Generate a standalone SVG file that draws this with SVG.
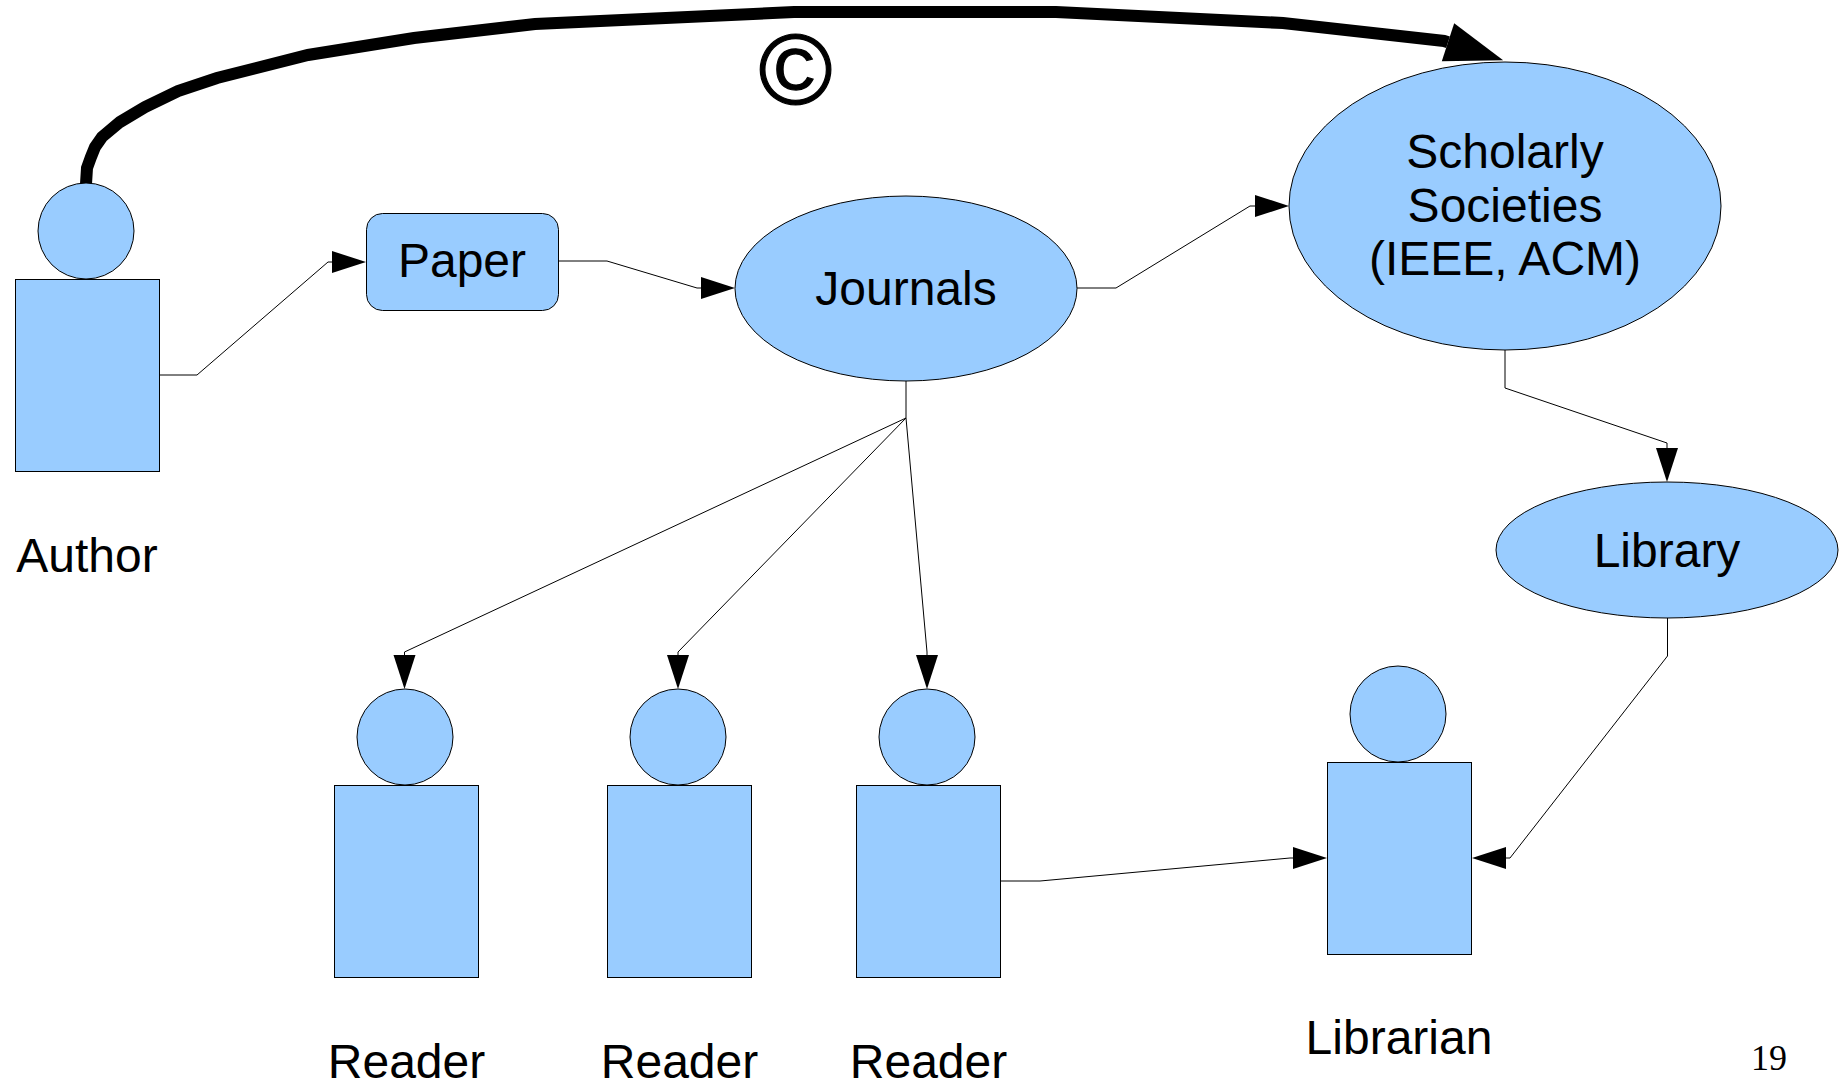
<svg xmlns="http://www.w3.org/2000/svg" width="1847" height="1082" viewBox="0 0 1847 1082">
<style>
.s{fill:#99ccff;stroke:#000;stroke-width:1}
.c{fill:none;stroke:#000;stroke-width:1;marker-end:url(#a)}
.t{fill:none;stroke:#000;stroke-width:12;marker-end:url(#b)}
text{font-family:"Liberation Sans",Arial,sans-serif;font-size:48px;fill:#000;text-anchor:middle}
</style>
<defs>
<marker id="a" markerUnits="userSpaceOnUse" markerWidth="34" markerHeight="22" refX="0" refY="11" orient="auto" overflow="visible"><path d="M0 0L34 11L0 22Z" fill="#000"/></marker>
<marker id="b" markerUnits="userSpaceOnUse" markerWidth="58" markerHeight="40" refX="0" refY="20" orient="auto" overflow="visible"><path d="M0 0L58 20L0 40Z" fill="#000"/></marker>
</defs>
<rect width="1847" height="1082" fill="#fff"/>
<g id="connectors">
<path class="t" d="M86 184L87 168L91 157L95 147L102 137L120 122L145 107L178 91L217 78L308 55L414 38L535 24L794 12L1056 12L1283 23L1444 41L1448 42.300"/>
<path class="c" d="M159 375H197L328 262H332"/>
<path class="c" d="M559 261H607L697 288H701"/>
<path class="c" d="M1077 288H1116L1250 206H1255"/>
<path class="c" d="M906 381V418L404.500 652V655"/>
<path class="c" d="M906 418L678 652V655"/>
<path class="c" d="M906 418L927 652V655"/>
<path class="c" d="M1505 350V388L1667 443V448"/>
<path class="c" d="M1667.500 618V656L1510 858H1506"/>
<path class="c" d="M1000 881H1040L1290 858H1293"/>
</g>
<g id="copyright"><text x="795.500" y="104" style="font-size:100px;stroke:#000;stroke-width:1.200">©</text></g>
<g id="author"><ellipse class="s" cx="86" cy="231" rx="48" ry="48"/><rect class="s" x="15.500" y="279.500" width="144" height="192"/><text x="87" y="572">Author</text></g>
<g id="paper"><rect class="s" x="366.500" y="213.500" width="192" height="97" rx="16" ry="16"/><text x="462" y="277">Paper</text></g>
<g id="journals"><ellipse class="s" cx="906" cy="288.500" rx="171" ry="92.500"/><text x="906" y="305">Journals</text></g>
<g id="societies"><ellipse class="s" cx="1505" cy="206" rx="216" ry="144"/><text x="1505" y="168">Scholarly</text><text x="1505" y="222">Societies</text><text x="1505" y="275">(IEEE, ACM)</text></g>
<g id="library"><ellipse class="s" cx="1667" cy="550" rx="171" ry="68"/><text x="1667" y="567">Library</text></g>
<g id="reader1"><ellipse class="s" cx="405" cy="737" rx="48" ry="48"/><rect class="s" x="334.500" y="785.500" width="144" height="192"/><text x="406.500" y="1078">Reader</text></g>
<g id="reader2"><ellipse class="s" cx="678" cy="737" rx="48" ry="48"/><rect class="s" x="607.500" y="785.500" width="144" height="192"/><text x="679.500" y="1078">Reader</text></g>
<g id="reader3"><ellipse class="s" cx="927" cy="737" rx="48" ry="48"/><rect class="s" x="856.500" y="785.500" width="144" height="192"/><text x="928.500" y="1078">Reader</text></g>
<g id="librarian"><ellipse class="s" cx="1398" cy="714" rx="48" ry="48"/><rect class="s" x="1327.500" y="762.500" width="144" height="192"/><text x="1399" y="1054">Librarian</text></g>
<text id="page-number" x="1769" y="1070" style="font-family:'Liberation Serif','Times New Roman',serif;font-size:36px">19</text>
</svg>
